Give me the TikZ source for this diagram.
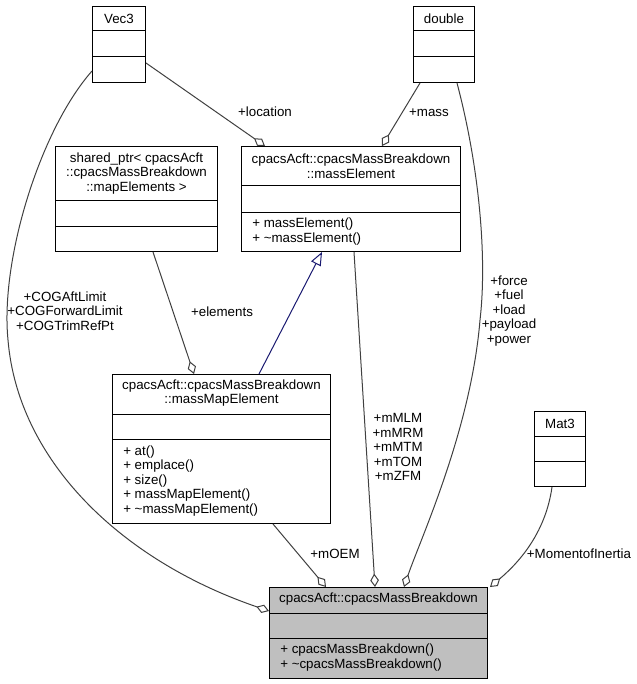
\documentclass[tikz,border=0pt]{standalone}
\usepackage{fontspec}
\setmainfont{Liberation Sans}
\usetikzlibrary{arrows.meta,calc}
\newcommand{\px}{0.75pt}
\definecolor{edgegray}{HTML}{404040}
\definecolor{inheritblue}{HTML}{191970}
\definecolor{mainfill}{HTML}{BFBFBF}
\tikzset{
  cls/.style={draw=black, line width=\px, fill=white, inner sep=0pt, anchor=north west},
  clssep/.style={draw=black, line width=\px},
  clstitle/.style={font=\fontsize{10}{10.9}\selectfont, align=center, inner sep=0pt},
  members/.style={font=\fontsize{10}{10.9}\selectfont, align=left, inner sep=0pt, anchor=west},
  role/.style={font=\fontsize{10}{10.9}\selectfont, align=center, inner sep=0pt},
  agg/.style={draw=edgegray, line width=\px, -{Diamond[open, length=10pt, width=6.5pt]}},
  inherit/.style={draw=inheritblue, line width=\px, -{Triangle[open, length=10pt, width=8pt]}},
}

\begin{document}
\begin{tikzpicture}[x=\px, y=-\px]
  \useasboundingbox (0,0) rectangle (636,684);

  % Vec3
  \node[cls, minimum width=53*\px, minimum height=76*\px] (vec3) at (92,6) {};
  \draw[clssep] (vec3.north west) ++(0,25) -- ++(53,0);
  \draw[clssep] (vec3.north west) ++(0,51) -- ++(53,0);
  \node[clstitle] (vec3title) at ($(vec3.north)+(0,12.5)$) {Vec3};

  % double
  \node[cls, minimum width=61*\px, minimum height=76*\px] (dbl) at (413,6) {};
  \draw[clssep] (dbl.north west) ++(0,25) -- ++(61,0);
  \draw[clssep] (dbl.north west) ++(0,51) -- ++(61,0);
  \node[clstitle] (dbltitle) at ($(dbl.north)+(0,12.5)$) {double};

  % shared_ptr of map elements
  \node[cls, minimum width=162*\px, minimum height=105*\px] (shptr) at (55,146) {};
  \draw[clssep] (shptr.north west) ++(0,55) -- ++(162,0);
  \draw[clssep] (shptr.north west) ++(0,80) -- ++(162,0);
  \node[clstitle] (shptrtitle) at ($(shptr.north)+(0,27.5)$)
    {shared\_ptr< cpacsAcft\\::cpacsMassBreakdown\\::mapElements >};

  % massElement
  \node[cls, minimum width=219*\px, minimum height=105*\px] (massel) at (241,146) {};
  \draw[clssep] (massel.north west) ++(0,40) -- ++(219,0);
  \draw[clssep] (massel.north west) ++(0,66) -- ++(219,0);
  \node[clstitle] (masseltitle) at ($(massel.north)+(0,20)$)
    {cpacsAcft::cpacsMassBreakdown\\::massElement};
  \node[members] (masselops) at ($(massel.north west)+(11,85.5)$)
    {+ massElement()\\+ \textasciitilde massElement()};

  % massMapElement
  \node[cls, minimum width=218*\px, minimum height=149*\px] (mapel) at (112,374) {};
  \draw[clssep] (mapel.north west) ++(0,40) -- ++(218,0);
  \draw[clssep] (mapel.north west) ++(0,65) -- ++(218,0);
  \node[clstitle] (mapeltitle) at ($(mapel.north)+(0,19)$)
    {cpacsAcft::cpacsMassBreakdown\\::massMapElement};
  \node[members] (mapelops) at ($(mapel.north west)+(11,107)$)
    {+ at()\\+ emplace()\\+ size()\\+ massMapElement()\\+ \textasciitilde massMapElement()};

  % Mat3
  \node[cls, minimum width=51*\px, minimum height=75*\px] (mat3) at (534,411) {};
  \draw[clssep] (mat3.north west) ++(0,25) -- ++(51,0);
  \draw[clssep] (mat3.north west) ++(0,50) -- ++(51,0);
  \node[clstitle] (mat3title) at ($(mat3.north)+(0,12.5)$) {Mat3};

  % cpacsMassBreakdown (the documented class)
  \node[cls, fill=mainfill, minimum width=218*\px, minimum height=91*\px] (main) at (269,587) {};
  \draw[clssep] (main.north west) ++(0,26) -- ++(218,0);
  \draw[clssep] (main.north west) ++(0,51) -- ++(218,0);
  \node[clstitle] (maintitle) at ($(main.north)+(0,12.5)$) {cpacsAcft::cpacsMassBreakdown};
  \node[members] (mainops) at ($(main.north west)+(11,70.5)$)
    {+ cpacsMassBreakdown()\\+ \textasciitilde cpacsMassBreakdown()};

  % === RELATIONS ===
  \draw[agg] ($(vec3.north east)+(0,57)$) -- ($(massel.north west)+(24,0)$);
  \node[role] (locationlbl) at (265,112) {+location};

  \draw[agg] ($(dbl.south west)+(7,0)$) -- ($(massel.north west)+(141,0)$);
  \node[role] (masslbl) at (429,113) {+mass};

  \draw[agg] ($(shptr.south west)+(98,0)$) -- ($(mapel.north west)+(82,0)$);
  \node[role] (elementslbl) at (222,312) {+elements};

  \draw[inherit] ($(mapel.north west)+(147,0)$) -- ($(massel.south west)+(81,0)$);

  \draw[agg] ($(massel.south west)+(113,0)$) -- ($(main.north west)+(106,0)$);
  \node[role] (mlbl) at (398,447) {+mMLM\\+mMRM\\+mMTM\\+mTOM\\+mZFM};

  \draw[agg] ($(dbl.south west)+(44,0)$) .. controls (480,170) and (487,260) .. (480,320)
    .. controls (471,430) and (420,540) .. ($(main.north west)+(135,0)$);
  \node[role] (forcelbl) at (509,311) {+force\\+fuel\\+load\\+payload\\+power};

  \draw[agg] ($(vec3.north west)+(0,65)$) .. controls (40,130) and (0,260) .. (8,340)
    .. controls (18,460) and (120,560) .. ($(main.north west)+(0,24)$);
  \node[role] (coglbl) at (65,311) {+COGAftLimit\\+COGForwardLimit\\+COGTrimRefPt};

  \draw[agg] ($(mapel.south west)+(161,0)$) -- ($(main.north west)+(57,0)$);
  \node[role] (oemlbl) at (335,554) {+mOEM};

  \draw[agg] ($(mat3.south west)+(18,0)$) .. controls (546,530) and (522,560) .. ($(main.north east)+(2,0)$);
  \node[role] (inertialbl) at (579,554) {+MomentofInertia};
\end{tikzpicture}
\end{document}
